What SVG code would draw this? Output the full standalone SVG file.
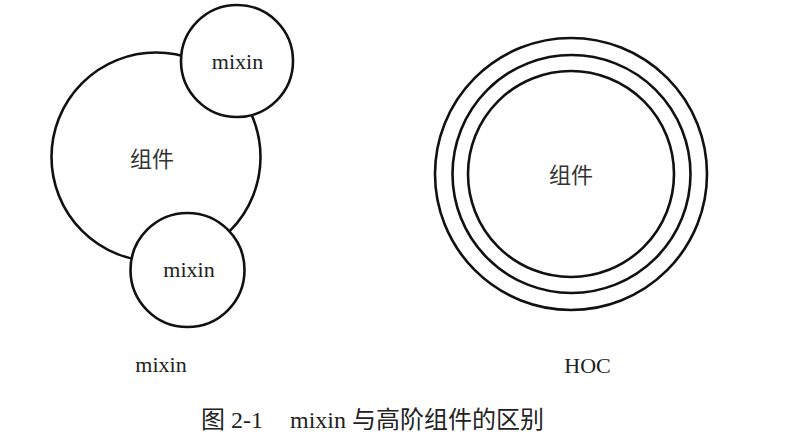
<svg xmlns="http://www.w3.org/2000/svg" width="786" height="443" viewBox="0 0 786 443">
  <style>
    .c { fill: #ffffff; stroke: #111111; stroke-width: 2.6; }
    .ring { fill: none; stroke: #111111; stroke-width: 2.6; }
    .t { font-family: "Liberation Serif", "Noto Sans CJK SC", serif; fill: #222222; text-anchor: middle; }
    .cjk { font-family: "Noto Sans CJK SC", "Liberation Serif", sans-serif; fill: #333333; text-anchor: middle; }
    .cap { font-family: "Liberation Serif", "Noto Sans CJK SC", serif; fill: #222222; text-anchor: start; font-size: 24px; }
  </style>
  <rect width="786" height="443" fill="#ffffff"/>
  <g id="connectors"></g>
  <g id="component-left">
    <circle class="c" cx="156" cy="157" r="104.5"/>
    <text class="cjk" x="152" y="167" font-size="22">组件</text>
  </g>
  <g id="mixin-top">
    <circle class="c" cx="237" cy="61" r="56"/>
    <text class="t" x="237.5" y="69" font-size="22">mixin</text>
  </g>
  <g id="mixin-bottom">
    <circle class="c" cx="187.5" cy="270" r="57"/>
    <text class="t" x="189" y="277" font-size="22">mixin</text>
  </g>
  <g id="hoc">
    <circle class="ring" cx="571" cy="174" r="136"/>
    <circle class="ring" cx="571.5" cy="174" r="119"/>
    <circle class="ring" cx="571" cy="174" r="103"/>
    <text class="cjk" x="571" y="183" font-size="22">组件</text>
  </g>
  <g id="labels">
    <text class="t" x="161" y="372" font-size="22">mixin</text>
    <text class="t" x="587.5" y="373" font-size="22">HOC</text>
  </g>
  <g id="caption">
    <text class="cap" x="201" y="428">图 2-1<tspan x="290">mixin 与高阶组件的区别</tspan></text>
  </g>
</svg>
